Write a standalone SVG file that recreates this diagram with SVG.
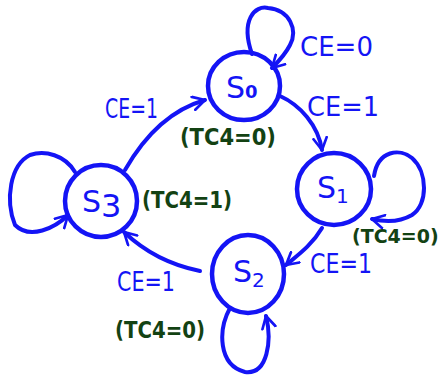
<svg xmlns="http://www.w3.org/2000/svg" width="448" height="376" viewBox="0 0 448 376">
<style>
.st{fill:none;stroke:#1414f5;stroke-width:4.5;stroke-linecap:round;stroke-linejoin:round}
.ed{fill:none;stroke:#1414f5;stroke-width:4;stroke-linecap:round;stroke-linejoin:round}
.nm{font-family:"DejaVu Sans",sans-serif;font-size:30px;fill:#1414f5}
.ce{font-family:"DejaVu Sans",sans-serif;font-size:26px;fill:#1414f5}
.tc{font-family:"DejaVu Sans",sans-serif;font-size:23px;font-weight:bold;fill:#134213}
</style>
<defs>
<marker id="ah" viewBox="0 0 12 12" refX="10" refY="6" markerWidth="4" markerHeight="4" orient="auto" markerUnits="strokeWidth">
<path d="M1,1 L10,6 L1,11" fill="none" stroke="#1414f5" stroke-width="2" stroke-linecap="round" stroke-linejoin="round"/>
</marker>
</defs>
<rect width="448" height="376" fill="#ffffff"/>
<g id="S0">
<ellipse class="st" cx="244" cy="86" rx="36" ry="34"/>
<text class="nm" x="226" y="98">S<tspan font-size="18" font-weight="bold">0</tspan></text>
</g>
<g id="S1">
<ellipse class="st" cx="334" cy="189" rx="37" ry="36"/>
<text class="nm" x="317" y="198">S<tspan font-size="20" dy="5">1</tspan></text>
</g>
<g id="S2">
<ellipse class="st" cx="248" cy="274" rx="36" ry="39"/>
<text class="nm" x="233" y="282">S<tspan font-size="20" dy="5">2</tspan></text>
</g>
<g id="S3">
<ellipse class="st" cx="101" cy="201" rx="36" ry="36"/>
<text class="nm" x="82" y="212">S<tspan font-size="32" dy="5">3</tspan></text>
</g>
<g id="connectors">
<path class="ed" marker-end="url(#ah)" d="M252,54 C240,20 255,5 268,8 C290,10 298,30 290,45 C285,55 278,62 272,68"/>
<path class="ed" marker-end="url(#ah)" d="M280,96 C300,105 318,125 322,150"/>
<path class="ed" marker-end="url(#ah)" d="M374,176 C378,150 400,148 412,158 C428,172 428,205 412,215 C400,222 385,222 372,219"/>
<path class="ed" marker-end="url(#ah)" d="M322,228 C312,245 298,255 286,265"/>
<path class="ed" marker-end="url(#ah)" d="M230,308 C218,330 218,365 245,372 C268,375 272,340 266,316"/>
<path class="ed" marker-end="url(#ah)" d="M200,271 C170,265 145,252 124,232"/>
<path class="ed" marker-end="url(#ah)" d="M75,172 C65,155 45,150 30,155 C10,165 5,200 15,225 C30,240 55,228 68,215"/>
<path class="ed" marker-end="url(#ah)" d="M125,170 C145,135 170,110 205,100"/>
</g>
<g id="labels">
<text class="ce" x="300" y="56" textLength="73" lengthAdjust="spacingAndGlyphs">CE=0</text>
<text class="ce" x="307" y="116" textLength="72" lengthAdjust="spacingAndGlyphs">CE=1</text>
<text class="ce" x="310" y="273" textLength="62" lengthAdjust="spacingAndGlyphs">CE=1</text>
<text class="ce" x="117" y="291" textLength="58" lengthAdjust="spacingAndGlyphs">CE=1</text>
<text class="ce" x="105" y="118" textLength="53" lengthAdjust="spacingAndGlyphs">CE=1</text>
<text class="tc" x="180" y="145" textLength="96" lengthAdjust="spacingAndGlyphs">(TC4=0)</text>
<text class="tc" x="352" y="243" style="font-size:19px">(TC4=0)</text>
<text class="tc" x="115" y="338" textLength="90" lengthAdjust="spacingAndGlyphs">(TC4=0)</text>
<text class="tc" x="142" y="208" textLength="90" lengthAdjust="spacingAndGlyphs">(TC4=1)</text>
</g>
</svg>
